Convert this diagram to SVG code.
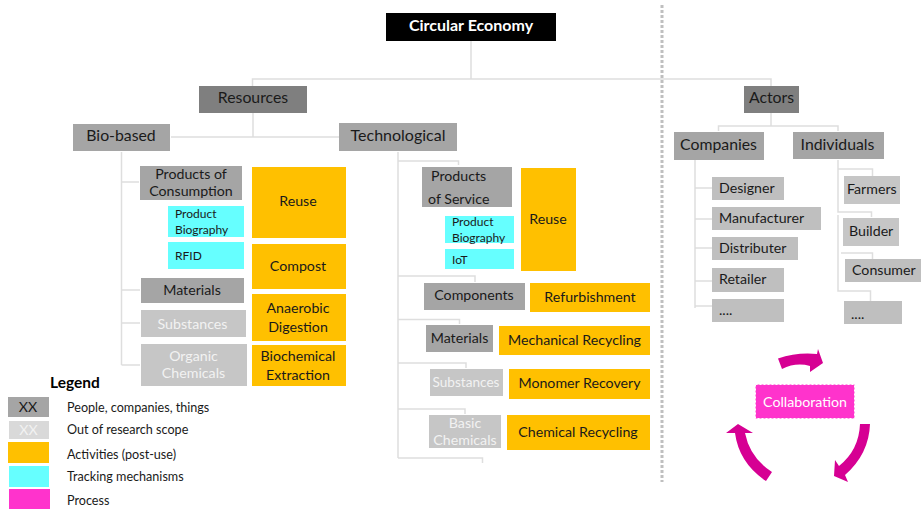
<svg xmlns="http://www.w3.org/2000/svg" width="921" height="514" viewBox="0 0 921 514">
<style>
text{font-family:"Lato","Open Sans","Liberation Sans",sans-serif;fill:#1a1a1a;text-anchor:middle}
.g1{fill:#7f7f7f}.g2{fill:#a5a5a5}.g3{fill:#bfbfbf}.g4{fill:#c6c6c6}.or{fill:#ffc000}.cy{fill:#66ffff}.pk{fill:#ff33cc}
.w{fill:#f2f2f2}.l{text-anchor:start}
.s16{font-size:16px}.s15{font-size:15.800px}.s14{font-size:14.200px}.s12{font-size:12px}.s11{font-size:12.600px}
.c{fill:none;stroke:#dedede;stroke-width:1.5}
.arrow{fill:#d60093}
</style>
<rect width="921" height="514" fill="#fff"/>
<g id="connectors" class="c">
<path d="M471 41V79M252.500 86V79H771V86"/>
<path d="M253 113V137M171 137H339"/>
<path d="M121.500 152V365M121.500 182H139M121.500 290H140M121.500 323H140M121.500 365H140"/>
<path d="M398 152V458M398 161H458.500V165M398 276H475V282M398 319.500H459.500V324M398 363H466V368M398 409H465V414M398 458H482.500V463"/>
<path d="M771 113V126M718.500 131V126H838V131"/>
<path d="M695 160V308M695 188H712M695 219H712M695 248H712M695 281H712M695 306H712"/>
<path d="M838 160V212H871.500V217M838 169H872.500V176M838 215V291H870.500V302M841 253H872.500V265"/>
</g>
<path id="divider" d="M662 5V482" fill="none" stroke="#bfbfbf" stroke-width="3" stroke-dasharray="3 2"/>
<g id="circular-economy"><rect x="386" y="13" width="170" height="28" fill="#000"/><text x="471" y="31" style="fill:#fff;font-weight:700;font-size:16px">Circular Economy</text></g>
<g id="resources"><rect class="g1" x="199" y="86" width="108" height="27"/><text x="253" y="103" class="s15">Resources</text></g>
<g id="actors"><rect class="g1" x="744" y="86" width="55" height="27"/><text x="771.500" y="103" class="s15">Actors</text></g>
<g id="bio-based"><rect class="g2" x="73" y="124" width="97" height="27"/><text x="121" y="141" class="s15">Bio-based</text></g>
<g id="technological"><rect class="g2" x="339" y="123" width="118" height="28"/><text x="398" y="141" class="s16">Technological</text></g>
<g id="products-consumption"><rect class="g2" x="140" y="166" width="102" height="34"/><text x="191" y="179" class="s14">Products of</text><text x="191" y="196" class="s14">Consumption</text></g>
<g id="biography-1"><rect class="cy" x="168" y="206" width="76" height="31"/><text x="175" y="218" class="s12 l">Product</text><text x="175" y="234" class="s12 l">Biography</text></g>
<g id="rfid"><rect class="cy" x="168" y="242" width="76" height="27"/><text x="175" y="260" class="s12 l">RFID</text></g>
<g id="materials-1"><rect class="g2" x="141" y="278" width="103" height="25"/><text x="192" y="295" class="s14">Materials</text></g>
<g id="substances-1"><rect class="g4" x="141" y="310" width="105" height="27"/><text x="192.500" y="329" class="s14 w">Substances</text></g>
<g id="organic"><rect class="g4" x="141" y="344" width="106" height="42"/><text x="193.500" y="361" class="s14 w">Organic</text><text x="193.500" y="378" class="s14 w">Chemicals</text></g>
<g id="reuse-1"><rect class="or" x="252" y="167" width="94" height="71"/><text x="298" y="206" class="s14">Reuse</text></g>
<g id="compost"><rect class="or" x="252" y="244" width="94" height="45"/><text x="298" y="271" class="s14">Compost</text></g>
<g id="anaerobic"><rect class="or" x="252" y="294" width="94" height="47"/><text x="298" y="313" class="s14">Anaerobic</text><text x="298" y="332" class="s14">Digestion</text></g>
<g id="biochemical"><rect class="or" x="252" y="345" width="94" height="41"/><text x="298" y="361" class="s14">Biochemical</text><text x="298" y="380" class="s14">Extraction</text></g>
<g id="products-service"><rect class="g2" x="422" y="167" width="90" height="40"/><text x="431" y="181" class="s14 l">Products</text><text x="428" y="204" class="s14 l">of Service</text></g>
<g id="biography-2"><rect class="cy" x="445" y="216" width="69" height="27"/><text x="452" y="226" class="s12 l">Product</text><text x="452" y="242" class="s12 l">Biography</text></g>
<g id="iot"><rect class="cy" x="445" y="249" width="69" height="20"/><text x="452" y="264" class="s12 l">IoT</text></g>
<g id="reuse-2"><rect class="or" x="521" y="168" width="55" height="103"/><text x="548" y="224" class="s14">Reuse</text></g>
<g id="components"><rect class="g2" x="424" y="283" width="101" height="27"/><text x="474" y="300" class="s14">Components</text></g>
<g id="refurbishment"><rect class="or" x="530" y="283" width="120" height="29"/><text x="590" y="302" class="s14">Refurbishment</text></g>
<g id="materials-2"><rect class="g2" x="426" y="325" width="67" height="27"/><text x="459.500" y="343" class="s14">Materials</text></g>
<g id="mechanical"><rect class="or" x="499" y="326" width="151" height="29"/><text x="574.500" y="345" class="s14">Mechanical Recycling</text></g>
<g id="substances-2"><rect class="g4" x="430" y="369" width="73" height="27"/><text x="466" y="387" class="s14 w" style="font-size:13.600px">Substances</text></g>
<g id="monomer"><rect class="or" x="509" y="369" width="141" height="30"/><text x="579.500" y="388" class="s14">Monomer Recovery</text></g>
<g id="basic"><rect class="g4" x="429" y="415" width="72" height="33"/><text x="465" y="428" class="s14 w">Basic</text><text x="465" y="445" class="s14 w">Chemicals</text></g>
<g id="chemical"><rect class="or" x="507" y="415" width="143" height="35"/><text x="578" y="437" class="s14">Chemical Recycling</text></g>
<g id="companies"><rect class="g2" x="674" y="132" width="90" height="28"/><text x="718.500" y="150" class="s15">Companies</text></g>
<g id="individuals"><rect class="g2" x="793" y="132" width="91" height="27"/><text x="837.500" y="150" class="s15">Individuals</text></g>
<g id="designer"><rect class="g3" x="712" y="177" width="72" height="23"/><text x="719" y="193" class="s14 l">Designer</text></g>
<g id="manufacturer"><rect class="g3" x="712" y="207" width="109" height="23"/><text x="719" y="223" class="s14 l">Manufacturer</text></g>
<g id="distributer"><rect class="g3" x="712" y="237" width="86" height="23"/><text x="719" y="253" class="s14 l">Distributer</text></g>
<g id="retailer"><rect class="g3" x="712" y="268" width="72" height="24"/><text x="719" y="284" class="s14 l">Retailer</text></g>
<g id="more-companies"><rect class="g3" x="712" y="299" width="72" height="23"/><text x="719" y="315" class="s14 l">....</text></g>
<g id="farmers"><rect class="g4" x="844" y="176" width="56" height="28"/><text x="847" y="194" class="s14 l">Farmers</text></g>
<g id="builder"><rect class="g4" x="843" y="218" width="56" height="28"/><text x="849" y="236" class="s14 l">Builder</text></g>
<g id="consumer"><rect class="g3" x="845" y="259" width="76" height="23"/><text x="852" y="275" class="s14 l">Consumer</text></g>
<g id="more-individuals"><rect class="g3" x="844" y="301" width="58" height="23"/><text x="851" y="319" class="s14 l">....</text></g>
<g id="collaboration"><rect class="pk" x="755.500" y="384.500" width="99" height="34" stroke="#fff" stroke-width="1" stroke-dasharray="2 2"/><text x="805" y="407" class="s14" style="fill:#fff">Collaboration</text></g>
<g id="cycle-arrows" class="arrow">
<path d="M778 358.500Q797 352 817 354L818 349L823 363L810 372L810 366Q796 362 782 369Z"/>
<path d="M860 424H870Q869 454 845 475L848 482L834 476L835 460L839 466Q859 450 860 424Z"/>
<path d="M772 472L766 481Q739 463 735 433H726L738 424L753 433H745Q750 458 772 472Z"/>
</g>
<g id="legend">
<text x="50" y="388" class="l" style="fill:#000;font-weight:700;font-size:15.500px">Legend</text>
<rect class="g2" x="8" y="397" width="41" height="20"/><text x="28" y="412" class="s14">XX</text>
<rect x="9" y="421" width="40" height="18" fill="#d9d9d9"/><text x="28.500" y="435" class="s14" style="fill:#f2f2f2">XX</text>
<rect class="or" x="8" y="442" width="41" height="21"/>
<rect class="cy" x="9" y="466" width="40" height="21"/>
<rect class="pk" x="9" y="489" width="41" height="20"/>
<text x="67" y="411.500" class="s11 l">People, companies, things</text>
<text x="67" y="433.500" class="s11 l">Out of research scope</text>
<text x="67" y="458.500" class="s11 l">Activities (post-use)</text>
<text x="67" y="480.500" class="s11 l">Tracking mechanisms</text>
<text x="67" y="504.500" class="s11 l">Process</text>
</g>
</svg>
